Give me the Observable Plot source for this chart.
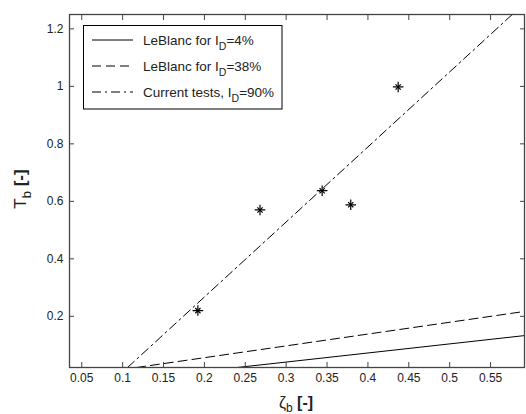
<!DOCTYPE html>
<html><head><meta charset="utf-8">
<script src="https://cdn.jsdelivr.net/npm/d3@7"></script>
<script src="https://cdn.jsdelivr.net/npm/@observablehq/plot@0.6"></script>
<style>body{margin:0;background:#fff} #chart{width:526px;height:414px}</style>
</head><body><div id="chart"></div>
<script>
const xTicks = [0.05, 0.1, 0.15, 0.2, 0.25, 0.3, 0.35, 0.4, 0.45, 0.5, 0.55];
const yTicks = [0.2, 0.4, 0.6, 0.8, 1, 1.2];
const testZeta = [0.192, 0.268, 0.344, 0.379, 0.437];
const testT = [0.22, 0.57, 0.637, 0.588, 0.998];
const fitZeta = [0.106, 0.5765];
const fitT = [0.022, 1.25];
const lb38Zeta = [0.117, 0.5915];
const lb38T = [0.022, 0.217];
const lb4Zeta = [0.24, 0.5915];
const lb4T = [0.022, 0.133];
const legendLabels = [["LeBlanc for I", "D", "=4%"], ["LeBlanc for I", "D", "=38%"], ["Current tests, I", "D", "=90%"]];
const legendDash = [null, "9,5", "9,4,2,4"];

const pts = testZeta.map((x, i) => ({x, y: testT[i]}));
const mk = (xs, ys) => xs.map((x, i) => ({x, y: ys[i]}));

const font = "'Liberation Sans', Arial, sans-serif";
const plot = Plot.plot({
  width: 526, height: 414,
  marginLeft: 69, marginRight: 2, marginTop: 14, marginBottom: 47,
  style: {fontFamily: font, fontSize: "12px", background: "#fff", color: "#222"},
  x: {domain: [0.035, 0.5915]},
  y: {domain: [0.022, 1.25]},
  marks: [
    Plot.line(mk(lb4Zeta, lb4T), {x: "x", y: "y", stroke: "#000", strokeWidth: 1}),
    Plot.line(mk(lb38Zeta, lb38T), {x: "x", y: "y", stroke: "#000", strokeWidth: 1, strokeDasharray: "9,5"}),
    Plot.line(mk(fitZeta, fitT), {x: "x", y: "y", stroke: "#000", strokeWidth: 1, strokeDasharray: "9,4,2,4"}),
    Plot.dot(pts, {x: "x", y: "y", symbol: "plus", r: 3.5, stroke: "#000", strokeWidth: 1.2}),
    Plot.dot(pts, {x: "x", y: "y", symbol: "times", r: 2.5, stroke: "#000", strokeWidth: 1.2}),
    Plot.axisX({anchor: "bottom", ticks: xTicks, tickSize: -5, tickPadding: 11, label: null, tickFormat: d => String(d), stroke: "#444"}),
    Plot.axisX({anchor: "top", ticks: xTicks, tickSize: -5, label: null, tickFormat: () => "", stroke: "#444"}),
    Plot.axisY({anchor: "left", ticks: yTicks, tickSize: -5, tickPadding: 11, label: null, tickFormat: d => String(d), stroke: "#444"}),
    Plot.axisY({anchor: "right", ticks: yTicks, tickSize: -5, label: null, tickFormat: () => "", stroke: "#444"}),
    Plot.frame({stroke: "#444", strokeWidth: 1.3})
  ]
});
document.getElementById("chart").appendChild(plot);

const svg = d3.select(plot);
// legend
const lg = svg.append("g").attr("font-family", font).attr("text-anchor", "start");
lg.append("rect").attr("x", 83.5).attr("y", 25.5).attr("width", 198.5).attr("height", 83.5)
  .attr("fill", "#fff").attr("stroke", "#000").attr("stroke-width", 1);
const rowY = [40, 66, 92];
legendLabels.forEach((lab, i) => {
  const y = rowY[i];
  const ln = lg.append("line").attr("x1", 92).attr("x2", 133).attr("y1", y).attr("y2", y)
    .attr("stroke", "#000").attr("stroke-width", 1);
  if (legendDash[i]) ln.attr("stroke-dasharray", legendDash[i]);
  const t = lg.append("text").attr("x", 143).attr("y", y + 4.5).attr("font-size", 13.5)
    .attr("text-anchor", "start").attr("fill", "#222");
  t.append("tspan").text(lab[0]);
  t.append("tspan").attr("font-size", 10.5).attr("dy", 5).text(lab[1]);
  t.append("tspan").attr("dy", -5).text(lab[2]);
});
// x label
const xl = svg.append("text").attr("x", 296).attr("y", 408).attr("text-anchor", "middle")
  .attr("font-family", font).attr("font-size", 16).attr("fill", "#222");
xl.append("tspan").text("ζ");
xl.append("tspan").attr("font-size", 12).attr("dy", 4).text("b");
xl.append("tspan").attr("dy", -4).attr("font-weight", "bold").text(" [-]");
// y label
const yl = svg.append("text").attr("transform", "translate(26,189) rotate(-90)").attr("text-anchor", "middle")
  .attr("font-family", font).attr("font-size", 17).attr("fill", "#222");
yl.append("tspan").text("T");
yl.append("tspan").attr("font-size", 13).attr("dy", 5).text("b");
yl.append("tspan").attr("dy", -5).attr("font-weight", "bold").text(" [-]");
</script>
</body></html>
